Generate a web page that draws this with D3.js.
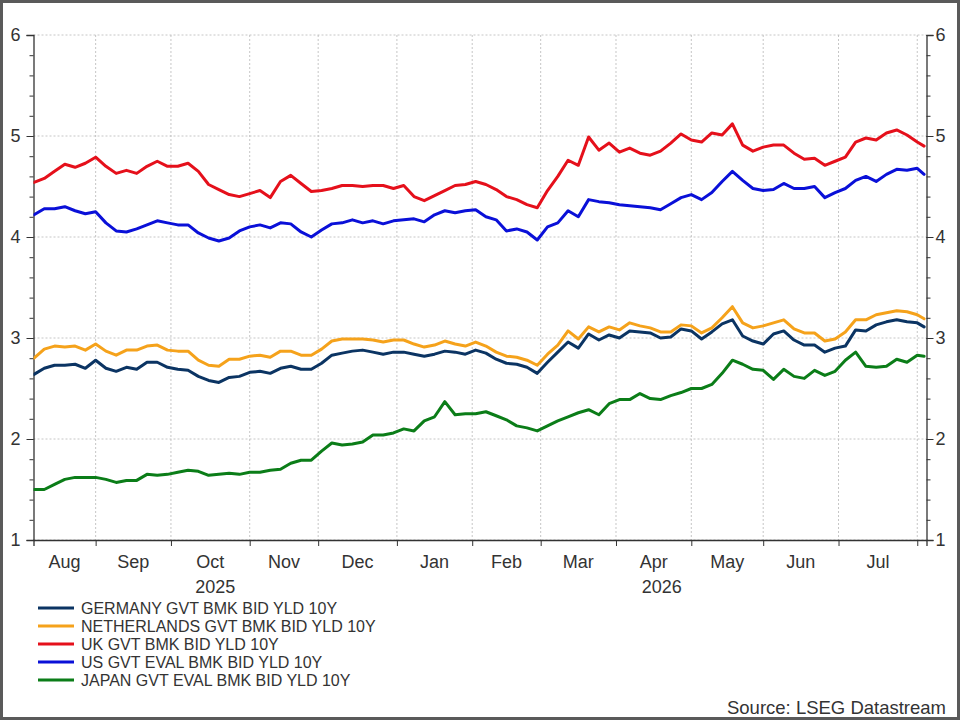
<!DOCTYPE html>
<html>
<head>
<meta charset="utf-8">
<script src="https://cdn.jsdelivr.net/npm/d3@7"></script>
<style>
  html, body { margin: 0; padding: 0; background: #fff; }
  svg { display: block; font-family: "Liberation Sans", Arial, sans-serif; }
</style>
</head>
<body>
<div id="chart"></div>
<script>
// first and last business day of the window, sampled every 3rd business day (+ last day)
const START_DATE = "2025-08-06";
const END_DATE = "2026-08-05";
const SAMPLE_STEP = 3;

const seriesNames = [
  "GERMANY GVT BMK BID YLD 10Y",
  "NETHERLANDS GVT BMK BID YLD 10Y",
  "UK GVT BMK BID YLD 10Y",
  "US GVT EVAL BMK BID YLD 10Y",
  "JAPAN GVT EVAL BMK BID YLD 10Y",
];
const seriesColors = ["#0b3463", "#f5a21b", "#e5101b", "#0a10d8", "#0b7d18"];

const germany = [
  2.64, 2.70, 2.73, 2.73, 2.74, 2.70, 2.78, 2.70, 2.67, 2.71, 2.69, 2.76, 2.76, 2.71, 2.69,
  2.68, 2.62, 2.58, 2.56, 2.61, 2.62, 2.66, 2.67, 2.65, 2.70, 2.72, 2.69, 2.69, 2.75, 2.83,
  2.85, 2.87, 2.88, 2.86, 2.84, 2.86, 2.86, 2.84, 2.82, 2.84, 2.87, 2.86, 2.84, 2.88, 2.85,
  2.79, 2.75, 2.74, 2.71, 2.65, 2.76, 2.86, 2.96, 2.90, 3.04, 2.98, 3.03, 3.00, 3.07,
  3.06, 3.05, 3.00, 3.01, 3.09, 3.07, 2.99, 3.06, 3.14, 3.18, 3.02, 2.97, 2.94, 3.04,
  3.07, 2.98, 2.93, 2.93, 2.86, 2.90, 2.92, 3.08, 3.07, 3.13, 3.16, 3.18, 3.16, 3.15,
  3.11,
];
const netherlands = [
  2.80, 2.89, 2.92, 2.91, 2.92, 2.88, 2.94, 2.87, 2.83, 2.88, 2.88, 2.92, 2.93, 2.88, 2.87,
  2.87, 2.78, 2.73, 2.72, 2.79, 2.79, 2.82, 2.83, 2.81, 2.87, 2.87, 2.83, 2.83, 2.89, 2.97,
  2.99, 2.99, 2.99, 2.98, 2.96, 2.98, 2.98, 2.94, 2.91, 2.93, 2.97, 2.94, 2.92, 2.96, 2.92,
  2.86, 2.82, 2.81, 2.78, 2.73, 2.84, 2.93, 3.07, 2.99, 3.11, 3.06, 3.11, 3.08, 3.15,
  3.12, 3.10, 3.06, 3.06, 3.13, 3.12, 3.05, 3.10, 3.20, 3.31, 3.15, 3.10, 3.12, 3.15,
  3.18, 3.09, 3.05, 3.05, 2.97, 2.99, 3.06, 3.18, 3.18, 3.23, 3.25, 3.27, 3.26, 3.23,
  3.19,
];
const uk = [
  4.54, 4.58, 4.65, 4.72, 4.69, 4.73, 4.79, 4.70, 4.63, 4.66, 4.63, 4.70, 4.75, 4.70, 4.70,
  4.73, 4.65, 4.52, 4.47, 4.42, 4.40, 4.43, 4.46, 4.39, 4.55, 4.61, 4.53, 4.45, 4.46, 4.48,
  4.51, 4.51, 4.50, 4.51, 4.51, 4.48, 4.51, 4.40, 4.36, 4.41, 4.46, 4.51, 4.52, 4.55, 4.52,
  4.47, 4.40, 4.37, 4.32, 4.29, 4.46, 4.60, 4.76, 4.71, 4.99, 4.86, 4.93, 4.84, 4.88,
  4.83, 4.81, 4.85, 4.93, 5.02, 4.96, 4.94, 5.03, 5.01, 5.12, 4.91, 4.85, 4.89, 4.91,
  4.91, 4.83, 4.77, 4.78, 4.71, 4.75, 4.79, 4.94, 4.98, 4.96, 5.03, 5.06, 5.01, 4.94,
  4.90,
];
const us = [
  4.22, 4.28, 4.28, 4.30, 4.26, 4.23, 4.25, 4.14, 4.06, 4.05, 4.08, 4.12, 4.16, 4.14, 4.12,
  4.12, 4.04, 3.99, 3.96, 3.99, 4.06, 4.10, 4.12, 4.09, 4.14, 4.13, 4.05, 4.00, 4.07, 4.13,
  4.14, 4.17, 4.14, 4.16, 4.13, 4.16, 4.17, 4.18, 4.15, 4.22, 4.26, 4.24, 4.26, 4.27, 4.20,
  4.17, 4.06, 4.08, 4.05, 3.97, 4.10, 4.14, 4.26, 4.20, 4.37, 4.35, 4.34, 4.32, 4.31,
  4.30, 4.29, 4.27, 4.33, 4.39, 4.42, 4.37, 4.44, 4.55, 4.65, 4.56, 4.48, 4.46, 4.47,
  4.53, 4.48, 4.48, 4.50, 4.39, 4.44, 4.48, 4.56, 4.60, 4.55, 4.62, 4.67, 4.66, 4.68,
  4.62,
];
const japan = [
  1.50, 1.50, 1.55, 1.60, 1.62, 1.62, 1.62, 1.60, 1.57, 1.59, 1.59, 1.65, 1.64, 1.65, 1.67,
  1.69, 1.68, 1.64, 1.65, 1.66, 1.65, 1.67, 1.67, 1.69, 1.70, 1.76, 1.79, 1.79, 1.88, 1.96,
  1.94, 1.95, 1.97, 2.04, 2.04, 2.06, 2.10, 2.08, 2.18, 2.22, 2.37, 2.24, 2.25, 2.25, 2.27,
  2.23, 2.19, 2.13, 2.11, 2.08, 2.13, 2.18, 2.22, 2.26, 2.29, 2.24, 2.35, 2.39, 2.39,
  2.45, 2.40, 2.39, 2.43, 2.46, 2.50, 2.50, 2.54, 2.65, 2.78, 2.74, 2.69, 2.68, 2.59,
  2.69, 2.62, 2.60, 2.68, 2.63, 2.67, 2.78, 2.86, 2.72, 2.71, 2.72, 2.79, 2.76, 2.83,
  2.82,
];
const seriesValues = [germany, netherlands, uk, us, japan];

const yTicks = [1, 2, 3, 4, 5, 6];
const monthLabels = ["Aug", "Sep", "Oct", "Nov", "Dec", "Jan", "Feb", "Mar", "Apr", "May", "Jun", "Jul"];
const yearLabels = ["2025", "2026"];

const WIDTH = 960;
const HEIGHT = 720;
const PLOT = Object.freeze({ left: 33.5, right: 926.5, top: 35, bottom: 540 });
const TEXT_COLOR = "#333";
const AXIS_COLOR = "#333";
const GRID_COLOR = "#b8b8b8";

renderChart();

function buildBusinessDays(start, end) {
  const parse = d3.utcParse("%Y-%m-%d");
  return d3.utcDay.range(parse(start), d3.utcDay.offset(parse(end), 1))
    .filter((day) => day.getUTCDay() !== 0 && day.getUTCDay() !== 6);
}

function buildSampleIndices(dayCount) {
  const indices = d3.range(0, dayCount - 1, SAMPLE_STEP);
  if (indices[indices.length - 1] !== dayCount - 1) {
    indices.push(dayCount - 1);
  }
  return indices;
}

function buildMonthBoundaries(businessDays) {
  const boundaries = [];
  businessDays.forEach((day, index) => {
    if (index > 0 && day.getUTCMonth() !== businessDays[index - 1].getUTCMonth()) {
      boundaries.push(index);
    }
  });
  return boundaries;
}

function renderChart() {
  const businessDays = buildBusinessDays(START_DATE, END_DATE);
  const lastIndex = businessDays.length - 1;
  const sampleIndices = buildSampleIndices(businessDays.length);
  const monthBoundaries = buildMonthBoundaries(businessDays);

  const x = d3.scaleLinear().domain([-0.15, lastIndex + 0.7]).range([PLOT.left, PLOT.right]);
  const y = d3.scaleLinear().domain([1, 6]).range([PLOT.bottom, PLOT.top]);

  const svg = d3.select("#chart")
    .append("svg")
    .attr("width", WIDTH)
    .attr("height", HEIGHT)
    .attr("viewBox", `0 0 ${WIDTH} ${HEIGHT}`);

  svg.append("rect")
    .attr("x", 1.5)
    .attr("y", 1.5)
    .attr("width", WIDTH - 3)
    .attr("height", HEIGHT - 3)
    .attr("fill", "#fff")
    .attr("stroke", "#5a5a5a")
    .attr("stroke-width", 3);

  // grid
  const grid = svg.append("g").attr("class", "grid");
  grid.selectAll("line.hgrid")
    .data(yTicks)
    .join("line")
    .attr("class", "hgrid")
    .attr("x1", PLOT.left)
    .attr("x2", PLOT.right)
    .attr("y1", (d) => y(d))
    .attr("y2", (d) => y(d))
    .attr("stroke", GRID_COLOR)
    .attr("stroke-width", 0.8)
    .attr("stroke-dasharray", "2,2");
  grid.selectAll("line.vgrid")
    .data(monthBoundaries)
    .join("line")
    .attr("class", "vgrid")
    .attr("x1", (d) => x(d))
    .attr("x2", (d) => x(d))
    .attr("y1", PLOT.top)
    .attr("y2", PLOT.bottom)
    .attr("stroke", GRID_COLOR)
    .attr("stroke-width", 0.8)
    .attr("stroke-dasharray", "2,2");

  // y axes, left and right, with 0.2 minor ticks
  const minorTicks = d3.range(10, 61, 2).map((v) => v / 10);
  const leftAxis = d3.axisLeft(y).tickValues(minorTicks).tickSize(4).tickFormat("");
  const rightAxis = d3.axisRight(y).tickValues(minorTicks).tickSize(4).tickFormat("");
  [
    { axis: leftAxis, xPos: PLOT.left, major: d3.axisLeft(y).tickValues(yTicks).tickSize(7).tickPadding(6).tickFormat(d3.format("d")) },
    { axis: rightAxis, xPos: PLOT.right, major: d3.axisRight(y).tickValues(yTicks).tickSize(7).tickPadding(2).tickFormat(d3.format("d")) },
  ].forEach(({ axis, xPos, major }) => {
    const minorGroup = svg.append("g").attr("transform", `translate(${xPos},0)`).call(axis);
    minorGroup.select(".domain").remove();
    minorGroup.selectAll("line").attr("stroke", AXIS_COLOR);
    const majorGroup = svg.append("g").attr("transform", `translate(${xPos},0)`).call(major);
    majorGroup.select(".domain").attr("stroke", AXIS_COLOR).attr("stroke-width", 1.3);
    majorGroup.selectAll("line").attr("stroke", AXIS_COLOR);
    majorGroup.selectAll("text")
      .attr("fill", TEXT_COLOR)
      .attr("font-size", 18)
      .attr("font-family", "Liberation Sans, Arial, sans-serif");
  });

  // x axis
  const xAxis = d3.axisBottom(x).tickValues(monthBoundaries).tickSize(6).tickFormat("");
  const xGroup = svg.append("g").attr("transform", `translate(0,${PLOT.bottom})`).call(xAxis);
  xGroup.select(".domain").attr("stroke", AXIS_COLOR).attr("stroke-width", 1.3);
  xGroup.selectAll("line").attr("stroke", AXIS_COLOR);

  const monthEdges = [x.domain()[0]].concat(monthBoundaries);
  const monthLabelData = monthLabels.map((label, i) => ({
    label,
    from: Math.max(monthEdges[i], x.domain()[0]),
    to: i + 1 < monthEdges.length ? monthEdges[i + 1] : x.domain()[1],
  }));
  svg.append("g")
    .selectAll("text")
    .data(monthLabelData)
    .join("text")
    .attr("x", (d) => (x(d.from) + x(d.to)) / 2)
    .attr("y", 568)
    .attr("text-anchor", "middle")
    .attr("font-size", 18)
    .attr("fill", TEXT_COLOR)
    .text((d) => d.label);

  const yearStart = monthBoundaries[monthLabels.indexOf("Jan") - 1];
  const yearSpans = [
    [x.domain()[0], yearStart],
    [yearStart, x.domain()[1]],
  ];
  svg.append("g")
    .selectAll("text")
    .data(yearLabels)
    .join("text")
    .attr("x", (d, i) => (x(yearSpans[i][0]) + x(yearSpans[i][1])) / 2)
    .attr("y", 593)
    .attr("text-anchor", "middle")
    .attr("font-size", 18)
    .attr("fill", TEXT_COLOR)
    .text((d) => d);

  // lines
  svg.append("clipPath")
    .attr("id", "plot-clip")
    .append("rect")
    .attr("x", PLOT.left)
    .attr("y", PLOT.top)
    .attr("width", PLOT.right - PLOT.left)
    .attr("height", PLOT.bottom - PLOT.top);

  const line = d3.line()
    .x((d) => x(d.index))
    .y((d) => y(d.value));

  const seriesData = seriesNames.map((name, s) => ({
    name,
    color: seriesColors[s],
    points: seriesValues[s].map((value, i) => ({ index: sampleIndices[i], date: businessDays[sampleIndices[i]], value })),
  }));

  svg.append("g")
    .attr("clip-path", "url(#plot-clip)")
    .selectAll("path")
    .data(seriesData)
    .join("path")
    .attr("d", (d) => line(d.points))
    .attr("fill", "none")
    .attr("stroke", (d) => d.color)
    .attr("stroke-width", 3)
    .attr("stroke-linejoin", "round")
    .attr("stroke-linecap", "round");

  // legend
  const legend = svg.append("g").attr("transform", "translate(38,608)");
  const legendItem = legend.selectAll("g")
    .data(seriesData)
    .join("g")
    .attr("transform", (d, i) => `translate(0,${i * 18})`);
  legendItem.append("line")
    .attr("x1", 0)
    .attr("x2", 36)
    .attr("stroke", (d) => d.color)
    .attr("stroke-width", 3);
  legendItem.append("text")
    .attr("x", 43)
    .attr("dy", "0.36em")
    .attr("font-size", 16)
    .attr("fill", TEXT_COLOR)
    .text((d) => d.name);

  svg.append("text")
    .attr("x", 946)
    .attr("y", 714)
    .attr("text-anchor", "end")
    .attr("font-size", 18.5)
    .attr("fill", TEXT_COLOR)
    .text("Source: LSEG Datastream");
}
</script>
</body>
</html>
